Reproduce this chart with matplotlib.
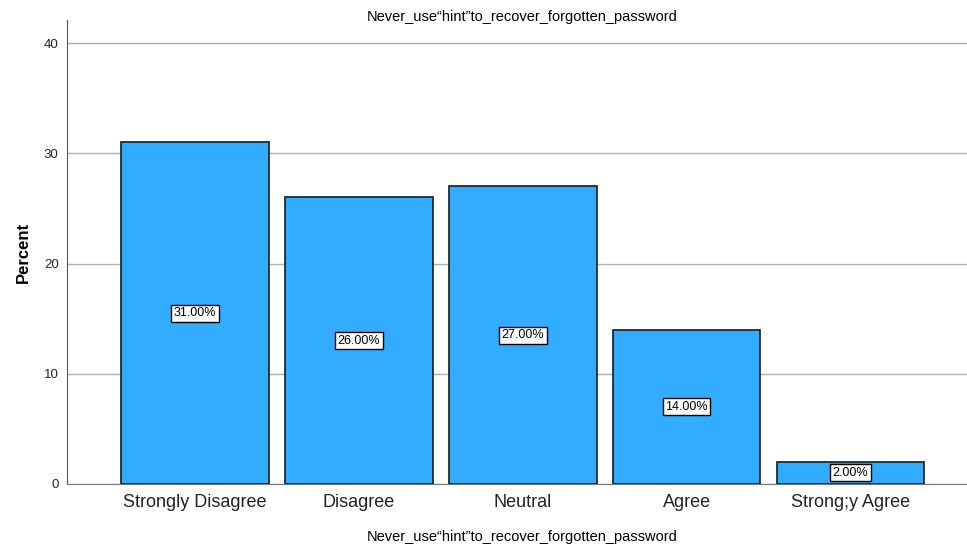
import matplotlib.pyplot as plt

plt.rcParams['font.family'] = ['Liberation Sans', 'DejaVu Sans']

# Answer categories and their share of responses
categories = ['Strongly Disagree', 'Disagree', 'Neutral', 'Agree', 'Strong;y Agree']
percent = [31.0, 26.0, 27.0, 14.0, 2.0]
var_name = 'Never_use\u201chint\u201dto_recover_forgotten_password'

fig = plt.figure(figsize=(9.67, 5.46), dpi=100)
ax = fig.add_axes([0.0693, 0.1136, 0.9307, 0.8494])

x = list(range(len(categories)))
ax.bar(x, percent, width=0.9, color='#32acfe', edgecolor='#1a1a1a', linewidth=1.2, zorder=3)

# Value labels in white boxes at half bar height
for xi, p in zip(x, percent):
    ax.text(xi, p / 2, '%.2f%%' % p, ha='center', va='center', fontsize=9, zorder=4,
            bbox=dict(boxstyle='square,pad=0.2', facecolor='white', edgecolor='black', linewidth=1))

ax.set_xlim(-0.78, 4.71)
ax.set_ylim(0, 42.09)
ax.set_yticks([0, 10, 20, 30, 40])
ax.yaxis.grid(True, color='#b0b0b0', linewidth=1, zorder=0)
ax.set_xticks(x)
ax.set_xticklabels(categories, fontsize=13, color='#222222')
ax.tick_params(axis='x', length=0, pad=7)
ax.tick_params(axis='y', length=0, pad=6, labelsize=9.5, labelcolor='#222222')

for s in ['top', 'right']:
    ax.spines[s].set_visible(False)
ax.spines['left'].set_color('#555555')
ax.spines['bottom'].set_color('#777777')

# Title sits at the very top of the figure, above the plot area
fig.text(522 / 967, 1 - 17 / 546, var_name, ha='center', va='center', fontsize=10.5)
fig.text(522 / 967, 1 - 537 / 546, var_name, ha='center', va='center', fontsize=10.5)
ax.set_ylabel('Percent', fontsize=12, fontweight='bold', labelpad=9)

fig.savefig('out.png', dpi=100)
